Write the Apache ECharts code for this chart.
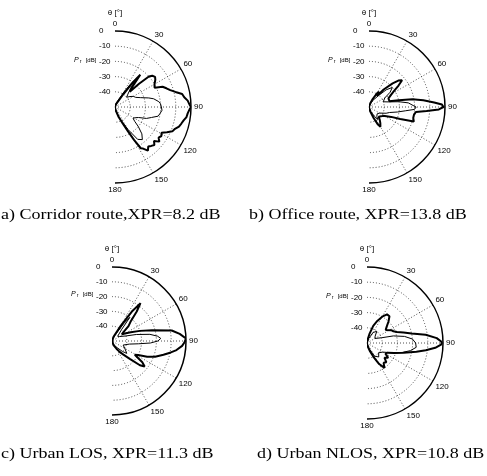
<!DOCTYPE html>
<html lang="en">
<head>
    <meta charset="UTF-8">
    <title>XPR polar patterns</title>
    <script src="https://cdn.jsdelivr.net/npm/echarts@6.0.0/dist/echarts.min.js"></script>
</head>
<body style="margin: 0; background: #fff">
    <div id="main" style="width: 487px; height: 476px"></div>
    <script type="text/javascript">
        // angle axis (theta, degrees) and radius axis (Pr, dB)
        var thetaTicks = [0, 30, 60, 90, 120, 150, 180];
        var dbTicks = [-50, -40, -30, -20, -10, 0];
        var captions = [
            'a) Corridor route,XPR=8.2 dB',
            'b) Office route, XPR=13.8 dB',
            'c) Urban LOS, XPR=11.3 dB',
            'd) Urban NLOS, XPR=10.8 dB'
        ];

        // a) corridor
        var aCoAng = [0, 10, 20, 25, 30, 33, 36, 38, 41, 44, 46, 48, 50, 53, 56, 60, 64, 67, 70, 73, 76, 79, 82, 85, 88, 90, 92, 95, 98, 101, 104, 107, 110, 113, 116, 119, 122, 125, 128, 131, 134, 137, 140, 143, 146, 148, 150, 152, 155, 160, 170, 180];
        var aCoDb = [-50, -49, -48, -47, -45, -40, -30, -23, -33, -36, -28, -20, -18, -17, -18, -20, -21, -16, -14, -12, -9, -5, -4, -2, -1, 0, -1, -2, -2.5, -4, -5, -6, -8, -9, -12, -15, -14, -15, -13, -16, -14, -15, -16, -14, -17, -18, -25, -32, -38, -43, -48, -50];
        var aCxAng = [0, 10, 20, 25, 30, 34, 37, 40, 45, 50, 55, 60, 65, 70, 75, 78, 80, 83, 86, 90, 94, 98, 102, 106, 110, 114, 118, 122, 126, 130, 135, 140, 145, 150, 155, 160, 170, 180];
        var aCxDb = [-50, -49, -47, -45, -40, -32, -26, -34, -38, -40, -38, -36, -35, -32, -27, -24, -23, -21, -20, -19.5, -19, -20, -21, -25, -28, -33, -35, -36, -34, -30, -25, -22, -24, -33, -40, -44, -48, -50];

        // b) office
        var bCoAng = [0, 10, 20, 25, 30, 33, 36, 40, 45, 48, 51, 54, 58, 62, 66, 70, 74, 77, 80, 83, 86, 88, 90, 92, 94, 96, 100, 104, 108, 111, 114, 118, 122, 128, 135, 140, 145, 150, 153, 157, 165, 180];
        var bCoDb = [-50, -49, -47, -44, -40, -38, -41, -35, -28, -24, -22, -26, -31, -34, -36, -37, -36, -30, -21, -14, -7, -2, -1, -4, -12, -19, -20, -20, -19, -28, -34, -37, -39, -40, -41, -39, -37, -35, -37, -42, -47, -50];
        var bCxAng = [0, 20, 30, 40, 45, 50, 55, 60, 70, 75, 80, 84, 88, 90, 93, 96, 100, 105, 110, 120, 130, 140, 145, 150, 160, 180];
        var bCxDb = [-50, -48, -45, -40, -34, -30, -33, -38, -40, -37, -30, -24, -21, -19, -20, -26, -31, -36, -38, -42, -43, -42, -40, -43, -47, -50];

        // c) urban LOS
        var cCoAng = [0, 10, 20, 25, 30, 34, 37, 40, 44, 48, 52, 56, 60, 65, 70, 75, 80, 84, 88, 91, 94, 98, 101, 105, 110, 114, 118, 121, 125, 128, 131, 135, 140, 145, 150, 160, 180];
        var cCoDb = [-50, -49, -47, -45, -38, -26, -18, -24, -32, -35, -40, -42, -40, -36, -30, -22, -9, -4, 0, -1, -2.5, -6, -9.5, -14, -19, -24, -30, -32, -25, -22, -25, -33, -38, -41, -44, -47, -50];
        var cCxAng = [0, 20, 30, 34, 37, 40, 50, 60, 70, 75, 80, 84, 87, 90, 93, 96, 100, 110, 120, 130, 135, 145, 160, 180];
        var cCxDb = [-50, -48, -44, -36, -30, -40, -45, -44, -40, -33, -24, -19, -17, -19, -24, -32, -38, -42, -40, -37, -40, -45, -48, -50];

        // d) urban NLOS
        var dCoAng = [0, 10, 15, 20, 25, 30, 35, 40, 45, 50, 55, 58, 62, 66, 70, 74, 78, 82, 86, 89, 91, 94, 97, 100, 105, 110, 115, 120, 125, 130, 135, 140, 145, 150, 155, 160, 170, 180];
        var dCoDb = [-50, -48, -44, -38, -34, -30, -27, -27, -30, -33, -35, -34, -32, -31, -29, -25, -20, -11, -4, -1, -1, -5, -11, -17, -25, -31, -35, -36, -33, -35, -32, -33, -30, -34, -40, -44, -48, -50];
        var dCxAng = [0, 20, 30, 40, 50, 60, 70, 75, 80, 85, 90, 95, 100, 105, 110, 120, 130, 140, 150, 160, 180];
        var dCxDb = [-50, -47, -42, -40, -43, -44, -40, -32, -25, -20, -18, -17.5, -21, -26, -31, -38, -40, -38, -40, -46, -50];

        var plots = [
            { center: [115, 107], radius: 76, co: [aCoAng, aCoDb], cx: [aCxAng, aCxDb], cap: [1, 208] },
            { center: [369, 107], radius: 76, co: [bCoAng, bCoDb], cx: [bCxAng, bCxDb], cap: [249, 208] },
            { center: [112, 341], radius: 74, co: [cCoAng, cCoDb], cx: [cCxAng, cCxDb], cap: [1, 447] },
            { center: [367, 343], radius: 76, co: [dCoAng, dCoDb], cx: [dCxAng, dCxDb], cap: [257, 447] }
        ];

        function pairs(ang, db) {
            return ang.map(function (a, k) { return [db[k], a]; });
        }

        var dotted = '#222';
        var polar = [], angleAxis = [], radiusAxis = [], series = [], graphic = [];

        plots.forEach(function (p, i) {
            polar.push({ center: p.center, radius: p.radius });
            angleAxis.push({
                polarIndex: i,
                type: 'value',
                min: thetaTicks[0],
                max: thetaTicks[thetaTicks.length - 1],
                interval: 30,
                startAngle: 90,
                endAngle: -90,
                clockwise: true,
                axisLine: { lineStyle: { color: '#000', width: 1.5 } },
                axisTick: { show: false },
                axisLabel: { color: '#000', fontSize: 8, margin: 3, fontFamily: 'Liberation Sans' },
                splitLine: {
                    show: true,
                    lineStyle: {
                        type: [1, 2],
                        width: 0.8,
                        color: thetaTicks.map(function (t) {
                            return (t === 0 || t === 180) ? 'rgba(0,0,0,0)' : dotted;
                        })
                    }
                }
            });
            radiusAxis.push({
                polarIndex: i,
                type: 'value',
                min: dbTicks[0],
                max: dbTicks[dbTicks.length - 1],
                interval: 10,
                axisLine: { show: false },
                axisTick: { show: false },
                axisLabel: {
                    color: '#000', fontSize: 8, margin: 16, align: 'left', fontFamily: 'Liberation Sans',
                    formatter: function (v) { return v === -50 ? '' : String(v); }
                },
                splitLine: {
                    show: true,
                    lineStyle: {
                        type: [1, 2],
                        width: 0.8,
                        color: dbTicks.map(function (t) {
                            return (t === -50 || t === 0) ? 'rgba(0,0,0,0)' : dotted;
                        })
                    }
                }
            });
            series.push({
                type: 'line', coordinateSystem: 'polar', polarIndex: i,
                data: pairs(p.co[0], p.co[1]),
                showSymbol: false, silent: true,
                lineStyle: { color: '#000', width: 2 }
            });
            series.push({
                type: 'line', coordinateSystem: 'polar', polarIndex: i,
                data: pairs(p.cx[0], p.cx[1]),
                showSymbol: false, silent: true,
                lineStyle: { color: '#000', width: 1 }
            });

            var cx = p.center[0], cy = p.center[1], r = p.radius;
            graphic.push({
                type: 'text', x: cx, y: cy - r - 18,
                style: { text: 'θ [°]', font: '8px "Liberation Sans"', fill: '#000', align: 'center', verticalAlign: 'middle' }
            });
            graphic.push({
                type: 'text', x: cx - 41, y: cy - 47,
                style: {
                    text: '{i|P}{s|r} {t|[dB]}',
                    fill: '#000', verticalAlign: 'middle',
                    rich: {
                        i: { font: 'italic 7px "Liberation Sans"' },
                        s: { font: '5px "Liberation Sans"', padding: [3, 1, 0, 1] },
                        t: { font: '6px "Liberation Sans"' }
                    }
                }
            });
            graphic.push({
                type: 'text', x: p.cap[0], y: p.cap[1], scaleX: 1.2,
                style: { text: captions[i], font: '15px "Liberation Serif"', fill: '#000' }
            });
        });

        var chartDom = document.getElementById('main');
        var myChart = echarts.init(chartDom);
        var option = {
            animation: false,
            polar: polar,
            angleAxis: angleAxis,
            radiusAxis: radiusAxis,
            series: series,
            graphic: graphic
        };
        myChart.setOption(option);
    </script>
</body>
</html>
